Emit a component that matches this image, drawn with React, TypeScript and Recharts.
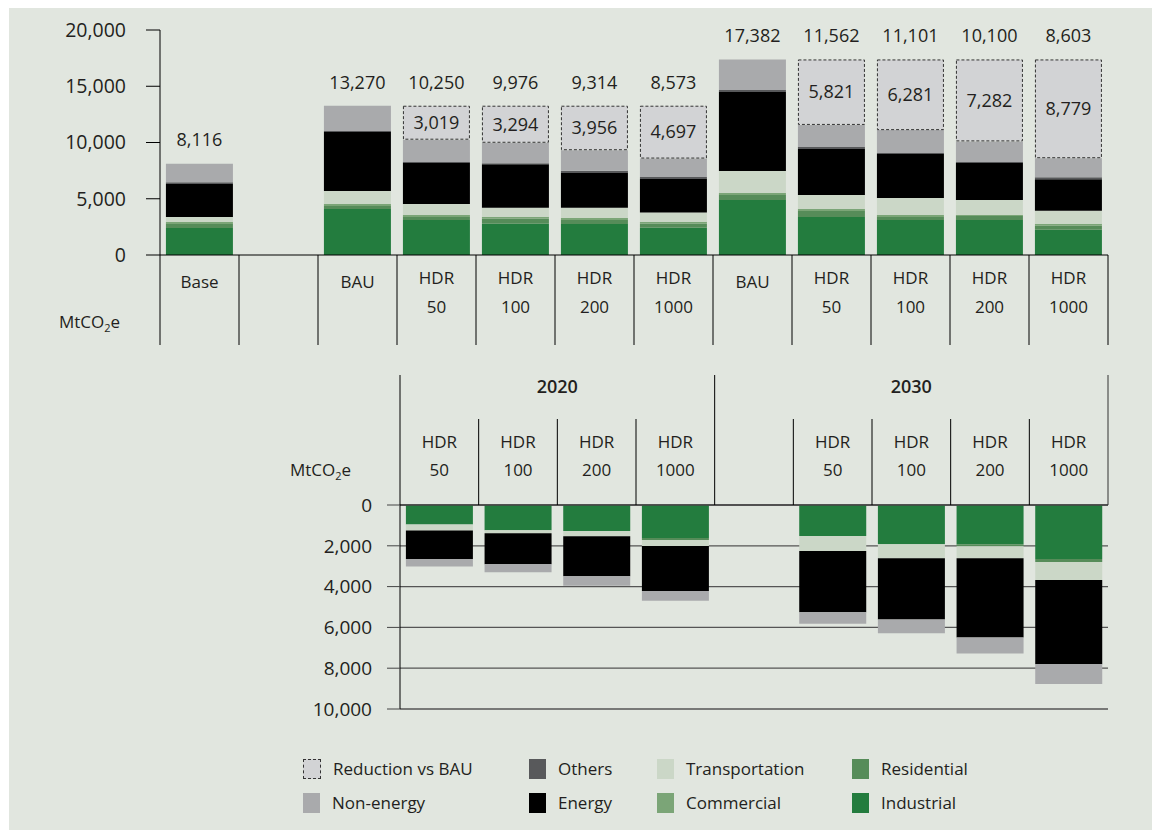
import React from 'react';
import { BarChart, Bar, XAxis, YAxis, CartesianGrid, LabelList } from 'recharts';

// ---------- DATA ----------
const topIds = ['base', 'gap', 'bau20', 'h50_20', 'h100_20', 'h200_20', 'h1000_20', 'bau30', 'h50_30', 'h100_30', 'h200_30', 'h1000_30'];
const topLabels: string[][] = [['Base'], [], ['BAU'], ['HDR', '50'], ['HDR', '100'], ['HDR', '200'], ['HDR', '1000'], ['BAU'], ['HDR', '50'], ['HDR', '100'], ['HDR', '200'], ['HDR', '1000']];
const topIndustrial = [2400, 0, 4090, 3110, 2780, 2760, 2420, 4890, 3380, 3110, 3110, 2240];
const topResidential = [360, 0, 270, 270, 440, 360, 360, 440, 530, 270, 360, 360];
const topCommercial = [180, 0, 180, 180, 180, 180, 180, 180, 180, 180, 90, 180];
const topTransportation = [440, 0, 1160, 980, 800, 890, 820, 1960, 1240, 1510, 1330, 1160];
const topEnergy = [2930, 0, 5240, 3640, 3860, 3110, 2980, 7020, 4090, 3910, 3290, 2800];
const topOthers = [150, 0, 90, 90, 90, 180, 180, 180, 180, 90, 90, 180];
const topNonEnergy = [1656, 0, 2240, 1980, 1826, 1834, 1633, 2712, 1962, 2031, 1830, 1683];
const topReduction = [0, 0, 0, 3019, 3294, 3956, 4697, 0, 5821, 6281, 7282, 8779];
const topTotals: (number | null)[] = [8116, null, 13270, 10250, 9976, 9314, 8573, 17382, 11562, 11101, 10100, 8603];
const topTicks = [0, 5000, 10000, 15000, 20000];

const botIds = ['h50_20', 'h100_20', 'h200_20', 'h1000_20', 'gap', 'h50_30', 'h100_30', 'h200_30', 'h1000_30'];
const botLabels: string[][] = [['HDR', '50'], ['HDR', '100'], ['HDR', '200'], ['HDR', '1000'], [], ['HDR', '50'], ['HDR', '100'], ['HDR', '200'], ['HDR', '1000']];
const botGroups = [{ label: '2020', start: 0, span: 4 }, { label: '2030', start: 4, span: 5 }];
const botIndustrial = [950, 1240, 1280, 1620, 0, 1520, 1920, 1920, 2650];
const botResidential = [0, 0, 0, 100, 0, 0, 0, 100, 150];
const botCommercial = [0, 0, 0, 0, 0, 0, 0, 0, 0];
const botTransportation = [300, 150, 250, 290, 0, 740, 690, 590, 880];
const botEnergy = [1400, 1520, 1960, 2210, 0, 3000, 3000, 3880, 4130];
const botOthers = [0, 0, 0, 0, 0, 0, 0, 0, 0];
const botNonEnergy = [369, 384, 466, 477, 0, 561, 671, 792, 969];
const botTicks = [0, 2000, 4000, 6000, 8000, 10000];

// ---------- STYLE ----------
const C = {
  bg: '#e1e6df',
  text: '#231f20',
  industrial: '#237c3e',
  residential: '#568c59',
  commercial: '#7ba577',
  transportation: '#cbd7c7',
  energy: '#000000',
  others: '#58595b',
  nonEnergy: '#a9aaac',
  reduction: '#d2d3d5',
};
const FONT = '"Open Sans", "Noto Sans", sans-serif';

const fmt = (v: number) => v.toLocaleString('en-US');

const topData = topIds.map((id, i) => ({
  id,
  industrial: topIndustrial[i],
  residential: topResidential[i],
  commercial: topCommercial[i],
  transportation: topTransportation[i],
  energy: topEnergy[i],
  others: topOthers[i],
  nonEnergy: topNonEnergy[i],
  reduction: topReduction[i],
  total: topTotals[i],
}));

const botData = botIds.map((id, i) => ({
  id,
  industrial: botIndustrial[i],
  residential: botResidential[i],
  commercial: botCommercial[i],
  transportation: botTransportation[i],
  energy: botEnergy[i],
  others: botOthers[i],
  nonEnergy: botNonEnergy[i],
}));

// ---------- COMPONENTS ----------
function TopTick(props: any) {
  const { x, y, payload } = props;
  const i = topIds.indexOf(payload.value);
  const off = payload.offset || 39.5;
  const lab = topLabels[i] || [];
  const ts = { fontSize: 17, fill: C.text, fontFamily: FONT, textAnchor: 'middle' as const };
  return (
    <g>
      <line x1={x - off} x2={x - off} y1={y} y2={y + 90} stroke="#000" strokeWidth={1} />
      {i === topIds.length - 1 && <line x1={x + off} x2={x + off} y1={y} y2={y + 90} stroke="#000" strokeWidth={1} />}
      {lab.length === 1 && <text x={x} y={y + 27} dy="0.35em" {...ts}>{lab[0]}</text>}
      {lab.length === 2 && (
        <>
          <text x={x} y={y + 23} dy="0.35em" {...ts}>{lab[0]}</text>
          <text x={x} y={y + 52} dy="0.35em" {...ts}>{lab[1]}</text>
        </>
      )}
    </g>
  );
}

function BottomTick(props: any) {
  const { x, y, payload } = props;
  const i = botIds.indexOf(payload.value);
  const off = payload.offset || 39.35;
  const lab = botLabels[i] || [];
  const group = botGroups.find((g) => g.start === i);
  const full = !!group;
  const ts = { fontSize: 17, fill: C.text, fontFamily: FONT, textAnchor: 'middle' as const };
  return (
    <g>
      <line x1={x - off} x2={x - off} y1={full ? y - 130 : y - 86} y2={y} stroke="#000" strokeWidth={1} />
      {i === botIds.length - 1 && <line x1={x + off} x2={x + off} y1={y - 130} y2={y} stroke="#333" strokeWidth={1} />}
      {group && (
        <text x={x - off + group.span * off} y={y - 118} dy="0.35em" fontSize={18} fontWeight={600} fill={C.text} fontFamily={FONT} textAnchor="middle">
          {group.label}
        </text>
      )}
      {lab.length === 2 && (
        <>
          <text x={x} y={y - 63} dy="0.35em" {...ts}>{lab[0]}</text>
          <text x={x} y={y - 35} dy="0.35em" {...ts}>{lab[1]}</text>
        </>
      )}
    </g>
  );
}

function ReductionShape(p: any) {
  const { x, y, width, height } = p;
  if (!height || height <= 0) return null;
  return (
    <rect x={x + 0.5} y={y + 0.5} width={width - 1} height={height - 1} fill={C.reduction} stroke="#333" strokeWidth={1} strokeDasharray="3 2" />
  );
}

function boxOf(p: any) {
  const vb = p.viewBox || {};
  return {
    x: p.x ?? vb.x,
    y: p.y ?? vb.y,
    width: p.width ?? vb.width,
    height: p.height ?? vb.height,
  };
}

function TotalLabel(p: any) {
  const { value } = p;
  if (value == null) return null;
  const b = boxOf(p);
  return (
    <text x={b.x + b.width / 2} y={b.y - 23.5} dy="0.35em" textAnchor="middle" fontSize={18} fill={C.text} fontFamily={FONT}>
      {fmt(value)}
    </text>
  );
}

function ReductionLabel(p: any) {
  const { value } = p;
  if (!value) return null;
  const b = boxOf(p);
  return (
    <text x={b.x + b.width / 2} y={b.y + b.height / 2} dy="0.35em" textAnchor="middle" fontSize={18} fill={C.text} fontFamily={FONT}>
      {fmt(value)}
    </text>
  );
}

const legendItems = [
  { label: 'Reduction vs BAU', color: C.reduction, dashed: true, col: 0, row: 0 },
  { label: 'Others', color: C.others, col: 1, row: 0 },
  { label: 'Transportation', color: C.transportation, col: 2, row: 0 },
  { label: 'Residential', color: C.residential, col: 3, row: 0 },
  { label: 'Non-energy', color: C.nonEnergy, col: 0, row: 1 },
  { label: 'Energy', color: C.energy, col: 1, row: 1 },
  { label: 'Commercial', color: C.commercial, col: 2, row: 1 },
  { label: 'Industrial', color: C.industrial, col: 3, row: 1 },
];
const legendCols = [294, 520, 648, 843];
const legendRows = [764.5, 799];

function Unit({ left, top }: { left: number; top: number }) {
  return (
    <div style={{ position: 'absolute', left, top: top - 12, fontSize: 17, lineHeight: '24px', color: C.text, fontFamily: FONT }}>
      MtCO<sub style={{ fontSize: 11, verticalAlign: '-4px', lineHeight: 0 }}>2</sub>e
    </div>
  );
}

export default function App() {
  const stackTop = [
    ['industrial', C.industrial],
    ['residential', C.residential],
    ['commercial', C.commercial],
    ['transportation', C.transportation],
    ['energy', C.energy],
    ['others', C.others],
    ['nonEnergy', C.nonEnergy],
  ];
  return (
    <div style={{ position: 'relative', width: 1151, height: 826, marginTop: -4, marginLeft: 1, background: C.bg, fontFamily: FONT, overflow: 'hidden' }}>
      <div style={{ position: 'absolute', left: 0, top: 0 }}>
        <BarChart width={1110} height={343} data={topData} margin={{ top: 26, right: 11, bottom: 0, left: 0 }} barCategoryGap="7.5%">
          <XAxis dataKey="id" interval={0} height={92} tick={<TopTick />} tickLine={false} tickSize={0} tickMargin={0} axisLine={{ stroke: '#000', strokeWidth: 1 }} />
          <YAxis width={151} domain={[0, 20000]} ticks={topTicks} tickFormatter={fmt} tickSize={14} tickMargin={20}
            tick={{ fontSize: 19.5, fill: C.text, fontFamily: FONT }} axisLine={{ stroke: '#000' }} tickLine={{ stroke: '#000' }} />
          {stackTop.map(([k, c]) => (
            <Bar key={k} dataKey={k} stackId="a" fill={c} isAnimationActive={false} />
          ))}
          <Bar dataKey="reduction" stackId="a" fill={C.reduction} shape={<ReductionShape />} isAnimationActive={false}>
            <LabelList dataKey="reduction" content={<ReductionLabel />} />
            <LabelList dataKey="total" content={<TotalLabel />} />
          </Bar>
        </BarChart>
      </div>
      <Unit left={50} top={318} />

      <div style={{ position: 'absolute', left: 0, top: 360 }}>
        <BarChart width={1110} height={369} data={botData} margin={{ top: 0, right: 11, bottom: 24, left: 0 }} barCategoryGap="7.5%">
          <CartesianGrid yAxisId="l" horizontal vertical={false} stroke="#555" strokeWidth={1.3} />
          <XAxis dataKey="id" orientation="top" interval={0} height={141} tick={<BottomTick />} tickLine={false} tickSize={0} tickMargin={0} axisLine={{ stroke: '#444', strokeWidth: 1.3 }} />
          <YAxis yAxisId="l" width={391} reversed domain={[0, 10000]} ticks={botTicks} tickFormatter={fmt} tickSize={13} tickMargin={15}
            tick={{ fontSize: 19, fill: C.text, fontFamily: FONT }} axisLine={{ stroke: '#000' }} tickLine={{ stroke: '#444' }} />
          <YAxis yAxisId="r" orientation="right" width={0} domain={[0, 10000]} tick={false} tickLine={false} axisLine={{ stroke: '#333' }} />
          {stackTop.map(([k, c]) => (
            <Bar key={k} yAxisId="l" dataKey={k} stackId="b" fill={c} isAnimationActive={false} />
          ))}
        </BarChart>
      </div>
      <Unit left={281} top={466} />

      {legendItems.map((it) => (
        <div key={it.label} style={{ position: 'absolute', left: legendCols[it.col], top: legendRows[it.row] - 10, height: 20, display: 'flex', alignItems: 'center' }}>
          <div style={{ width: it.dashed ? 16 : 17, height: it.dashed ? 18 : 20, background: it.color, border: it.dashed ? '1px dashed #333' : 'none' }} />
          <span style={{ marginLeft: 12, fontSize: 17, color: C.text, fontFamily: FONT, whiteSpace: 'nowrap', lineHeight: '20px' }}>{it.label}</span>
        </div>
      ))}
    </div>
  );
}
